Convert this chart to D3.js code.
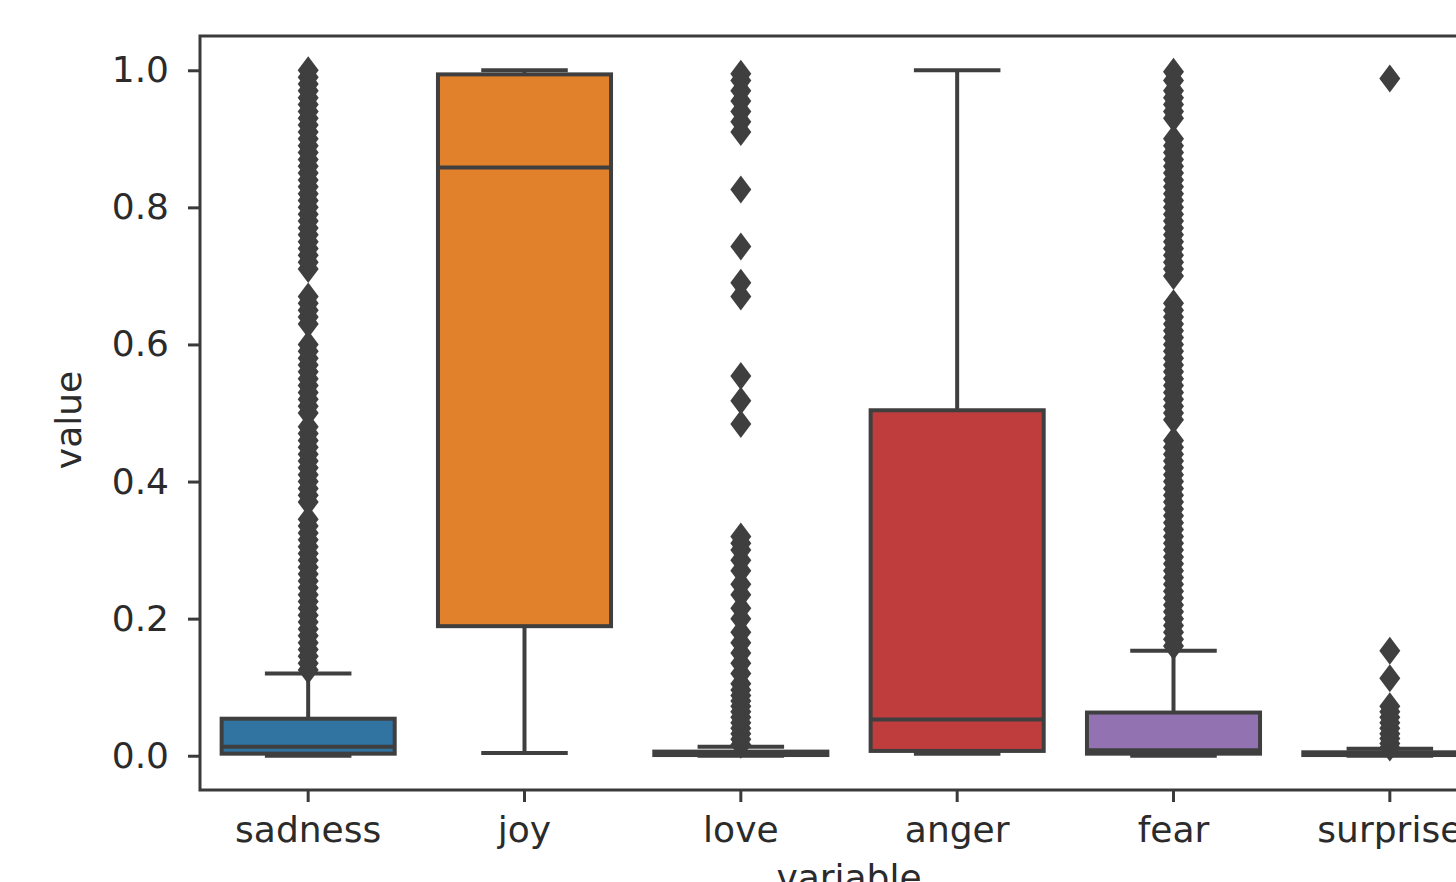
<!DOCTYPE html>
<html>
<head>
<meta charset="utf-8">
<script src="https://cdn.jsdelivr.net/npm/d3@7"></script>
<style>
  html, body { margin: 0; padding: 0; background: #fff; overflow: hidden; }
  svg { display: block; }
  text { font-family: "DejaVu Sans", sans-serif; fill: #2b2b2b; }
</style>
</head>
<body>
<svg id="chart" width="1456" height="882"></svg>
<script>
// ---------- data ----------
const categories = ["sadness", "joy", "love", "anger", "fear", "surprise"];
const boxColors = ["#3274a1", "#e1812c", "#3a923a", "#c03d3e", "#9372b2", "#845b53"];
const q1Values = [0.003, 0.189, 0.001, 0.007, 0.003, 0.001];
const medianValues = [0.013, 0.858, 0.002, 0.053, 0.008, 0.002];
const q3Values = [0.054, 0.994, 0.006, 0.504, 0.063, 0.005];
const whiskerLow = [0.0, 0.004, 0.0, 0.003, 0.0, 0.0];
const whiskerHigh = [0.12, 1.0, 0.013, 1.0, 0.153, 0.01];

const sadnessOutliers = [0.125,0.135,0.145,0.155,0.165,0.175,0.185,0.195,0.205,0.215,0.225,0.235,0.245,0.255,0.265,0.275,0.285,0.295,0.305,0.315,0.325,0.335,0.345,0.37,0.38,0.39,0.40,0.41,0.42,0.43,0.44,0.45,0.46,0.47,0.48,0.50,0.51,0.52,0.53,0.54,0.55,0.56,0.57,0.58,0.59,0.60,0.63,0.64,0.65,0.66,0.67,0.71,0.72,0.73,0.74,0.75,0.76,0.77,0.78,0.79,0.80,0.81,0.82,0.83,0.84,0.85,0.86,0.87,0.88,0.89,0.90,0.91,0.92,0.93,0.94,0.95,0.96,0.97,0.98,0.99,1.0];
const joyOutliers = [];
const loveOutliers = [0.016,0.024,0.032,0.04,0.048,0.056,0.064,0.072,0.08,0.088,0.096,0.105,0.12,0.135,0.15,0.165,0.18,0.2,0.215,0.235,0.25,0.27,0.285,0.3,0.31,0.32,0.484,0.518,0.554,0.67,0.69,0.743,0.826,0.91,0.925,0.94,0.955,0.97,0.985,0.995];
const angerOutliers = [];
const fearOutliers = [0.16,0.17,0.18,0.19,0.20,0.21,0.22,0.23,0.24,0.25,0.26,0.27,0.28,0.29,0.30,0.31,0.32,0.33,0.34,0.35,0.36,0.37,0.38,0.39,0.40,0.41,0.42,0.43,0.44,0.45,0.46,0.49,0.50,0.51,0.52,0.53,0.54,0.55,0.56,0.57,0.58,0.59,0.60,0.61,0.62,0.63,0.64,0.65,0.66,0.70,0.71,0.72,0.73,0.74,0.75,0.76,0.77,0.78,0.79,0.80,0.81,0.82,0.83,0.84,0.85,0.86,0.87,0.88,0.89,0.90,0.93,0.94,0.95,0.96,0.97,0.985,0.998];
const surpriseOutliers = [0.012,0.018,0.025,0.032,0.04,0.048,0.056,0.064,0.072,0.113,0.153,0.988];
const outlierLists = [sadnessOutliers, joyOutliers, loveOutliers, angerOutliers, fearOutliers, surpriseOutliers];

const yTicks = [0.0, 0.2, 0.4, 0.6, 0.8, 1.0];
const xLabel = "variable";
const yLabel = "value";

// ---------- layout ----------
const svg = d3.select("#chart");
const plot = { left: 200, right: 1498, top: 36, bottom: 790 };
const lineColor = "#3f3f3f";

const x = d3.scaleBand().domain(categories).range([plot.left, plot.right]).padding(0);
const y = d3.scaleLinear().domain([-0.05, 1.05]).range([plot.bottom, plot.top]);

const boxW = x.bandwidth() * 0.8;
const capW = boxW / 2;

const rows = categories.map((c, i) => ({
  cat: c, color: boxColors[i], q1: q1Values[i], med: medianValues[i], q3: q3Values[i],
  lo: whiskerLow[i], hi: whiskerHigh[i], out: outlierLists[i]
}));

const g = svg.append("g");

rows.forEach(r => {
  const cx = x(r.cat) + x.bandwidth() / 2;
  const grp = g.append("g");
  // whiskers
  grp.append("line").attr("x1", cx).attr("x2", cx).attr("y1", y(r.q3)).attr("y2", y(r.hi))
    .attr("stroke", lineColor).attr("stroke-width", 4);
  grp.append("line").attr("x1", cx).attr("x2", cx).attr("y1", y(r.q1)).attr("y2", y(r.lo))
    .attr("stroke", lineColor).attr("stroke-width", 4);
  // caps
  [r.hi, r.lo].forEach(v => {
    grp.append("line").attr("x1", cx - capW / 2).attr("x2", cx + capW / 2)
      .attr("y1", y(v)).attr("y2", y(v)).attr("stroke", lineColor).attr("stroke-width", 4);
  });
  // box
  grp.append("rect").attr("x", cx - boxW / 2).attr("width", boxW)
    .attr("y", y(r.q3)).attr("height", Math.max(0.5, y(r.q1) - y(r.q3)))
    .attr("fill", r.color).attr("stroke", lineColor).attr("stroke-width", 4);
  // median
  grp.append("line").attr("x1", cx - boxW / 2).attr("x2", cx + boxW / 2)
    .attr("y1", y(r.med)).attr("y2", y(r.med)).attr("stroke", lineColor).attr("stroke-width", 4);
  // outliers (thin diamonds)
  const dw = 10.5, dh = 14;
  grp.selectAll("path.flier").data(r.out).enter().append("path")
    .attr("class", "flier")
    .attr("d", v => {
      const yy = y(v);
      return `M${cx},${yy - dh}L${cx + dw},${yy}L${cx},${yy + dh}L${cx - dw},${yy}Z`;
    })
    .attr("fill", lineColor);
});

// frame
svg.append("rect").attr("x", plot.left).attr("y", plot.top)
  .attr("width", plot.right - plot.left).attr("height", plot.bottom - plot.top)
  .attr("fill", "none").attr("stroke", "#3a3a3a").attr("stroke-width", 3);

// y axis
const yAxis = d3.axisLeft(y).tickValues(yTicks).tickFormat(d3.format(".1f")).tickSize(12).tickPadding(19);
const ya = svg.append("g").attr("transform", `translate(${plot.left},0)`).call(yAxis);
ya.select(".domain").remove();
ya.selectAll(".tick line").attr("stroke", "#3a3a3a").attr("stroke-width", 3);
ya.selectAll(".tick text").attr("font-size", 36).attr("font-family", "DejaVu Sans").attr("fill", "#2b2b2b");

// x axis
const xAxis = d3.axisBottom(x).tickSize(12).tickPadding(14);
const xa = svg.append("g").attr("transform", `translate(0,${plot.bottom})`).call(xAxis);
xa.select(".domain").remove();
xa.selectAll(".tick line").attr("stroke", "#3a3a3a").attr("stroke-width", 3);
xa.selectAll(".tick text").attr("font-size", 36).attr("font-family", "DejaVu Sans").attr("fill", "#2b2b2b");

// axis labels
svg.append("text").attr("x", (plot.left + plot.right) / 2).attr("y", 890)
  .attr("text-anchor", "middle").attr("font-size", 36).text(xLabel);
svg.append("text").attr("transform", `translate(81,${(plot.top + plot.bottom) / 2 + 7}) rotate(-90)`)
  .attr("text-anchor", "middle").attr("font-size", 36).text(yLabel);
</script>
</body>
</html>
